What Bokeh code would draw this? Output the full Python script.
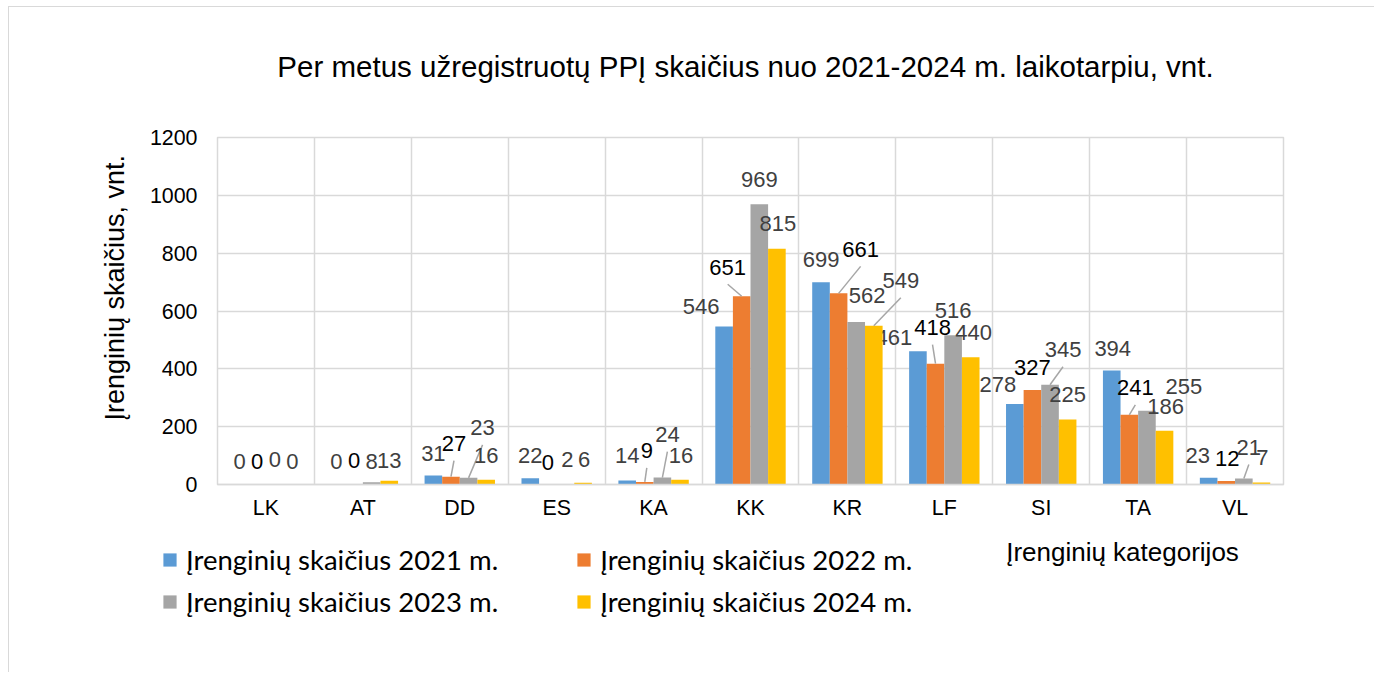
import math
from bokeh.plotting import figure
from bokeh.models import (Range1d, FixedTicker, Legend, LegendItem, Title, Label,
                          ColumnDataSource)
from bokeh.core.properties import value
from bokeh.embed import file_html
from bokeh.resources import INLINE

# ---------------- data ----------------
categories = ["LK", "AT", "DD", "ES", "KA", "KK", "KR", "LF", "SI", "TA", "VL"]
y2021 = [0, 0, 31, 22, 14, 546, 699, 461, 278, 394, 23]
y2022 = [0, 0, 27, 0, 9, 651, 661, 418, 327, 241, 12]
y2023 = [0, 8, 23, 2, 24, 969, 562, 516, 345, 255, 21]
y2024 = [0, 13, 16, 6, 16, 815, 549, 440, 225, 186, 7]
series_names = ["Įrenginių skaičius 2021 m.", "Įrenginių skaičius 2022 m.",
                "Įrenginių skaičius 2023 m.", "Įrenginių skaičius 2024 m."]
y_ticks = [0, 200, 400, 600, 800, 1000, 1200]
title_text = "Per metus užregistruotų PPĮ skaičius nuo 2021-2024 m. laikotarpiu, vnt."
y_label = "Įrenginių skaičius, vnt."
x_label = "Įrenginių kategorijos"

# ---------------- styles / label placement (pixels) ----------------
colors = ["#5B9BD5", "#ED7D31", "#A5A5A5", "#FFC000"]
label_colors = ["#404040", "#000000", "#404040", "#404040"]
dx = [
    [0, 0, 0, 0, 0, -23, 0, -24, -17, 1, -11],
    [0, 0, 3, 0, 2, -14, 22, -3, 0, 6, 1],
    [0, 0, 14, 2, 5, 0, 11, 0, 13, 37, 5],
    [0, 0, 0, 1, 1, 1, 27, 3, 0, 1, 1],
]
dy = [
    [-23, -23, -22, -23, -25, -20, -23, -14, -20, -22, -22],
    [-23, -24, -33, -22, -31, -29, -44, -36, -22, -27, -23],
    [-25, -21, -50, -24, -43, -25, -26, -25, -35, -24, -31],
    [-23, -20, -24, -23, -24, -25, -45, -25, -25, -24, -25],
]
leader = [
    [0] * 11,
    [0, 0, 1, 0, 1, 1, 1, 1, 0, 1, 0],
    [0, 0, 1, 0, 1, 0, 0, 0, 1, 0, 1],
    [0, 0, 0, 0, 0, 0, 1, 0, 0, 0, 0],
]

OX, OY = 9, 7           # page position of figure content
W = 1366
HT = 101                # title strip   (page y 6 .. 107, border included)
HA = 423                # main chart    (page y 107 .. 530)
HB = 142                # legend strip  (page y 530 .. 672)
YA = 6 + HT
YB = YA + HA
LEFT, TOP = 217 - OX, 137 - YA
RIGHT = W - (1283 - OX)
BOTTOM = HA - (484 - YA)
FW = W - LEFT - RIGHT
FH = HA - TOP - BOTTOM
N = len(categories)
PXX = FW / N
PXY = FH / 1200.0

FONT = "Liberation Sans"
GRID = "#d9d9d9"


def strip(height, extra_styles):
    f = figure(width=W, height=height, output_backend="svg", toolbar_location=None,
               x_range=Range1d(0, W), y_range=Range1d(0, height),
               x_axis_location=None, y_axis_location=None, title_location=None,
               min_border_left=0, min_border_right=0, min_border_top=0,
               min_border_bottom=0)
    f.styles = extra_styles
    f.grid.visible = False
    f.outline_line_color = None
    f.background_fill_color = "white"
    f.border_fill_color = "white"
    return f


# ---------------- title strip ----------------
t = strip(HT, {"margin-left": "8px", "margin-top": "6px",
               "border-left": "1px solid #d9d9d9", "border-top": "1px solid #d9d9d9"})
t.add_layout(Label(x=745 - OX, y=HT - 1 - (65 - OY), text=title_text,
                   text_align="center", text_baseline="middle",
                   text_font=FONT, text_font_size="29.5px", text_color="black"))

# ---------------- main chart ----------------
p = figure(width=W, height=HA, output_backend="svg", toolbar_location=None,
           title_location=None,
           x_range=Range1d(0, N), y_range=Range1d(0, 1200),
           min_border_left=LEFT, min_border_right=RIGHT,
           min_border_top=TOP, min_border_bottom=BOTTOM)
p.styles = {"margin-left": "8px", "border-left": "1px solid #d9d9d9"}
p.background_fill_color = "white"
p.border_fill_color = "white"
p.outline_line_color = GRID
p.outline_line_width = 1.5

p.ygrid.ticker = FixedTicker(ticks=y_ticks)
p.ygrid.grid_line_color = GRID
p.ygrid.grid_line_width = 1.5
p.xgrid.ticker = FixedTicker(ticks=list(range(N + 1)))
p.xgrid.grid_line_color = GRID
p.xgrid.grid_line_width = 1.5

p.yaxis.ticker = FixedTicker(ticks=y_ticks)
p.yaxis.axis_line_color = None
p.yaxis.major_tick_line_color = None
p.yaxis.minor_tick_line_color = None
p.yaxis.major_tick_out = 0
p.yaxis.major_label_standoff = 20
p.yaxis.major_label_text_font = FONT
p.yaxis.major_label_text_font_size = "21.4px"
p.yaxis.major_label_text_color = "black"

centers = [i + 0.5 for i in range(N)]
p.xaxis.ticker = FixedTicker(ticks=centers)
p.xaxis.major_label_overrides = {c: cat for c, cat in zip(centers, categories)}
p.xaxis.axis_line_color = GRID
p.xaxis.axis_line_width = 1.5
p.xaxis.major_tick_line_color = None
p.xaxis.minor_tick_line_color = None
p.xaxis.major_tick_out = 0
p.xaxis.major_label_standoff = 11
p.xaxis.major_label_text_font = FONT
p.xaxis.major_label_text_font_size = "21.4px"
p.xaxis.major_label_text_color = "black"

all_series = [y2021, y2022, y2023, y2024]
bar_w = 17.6 / PXX
offsets = [-1.5 * bar_w, -0.5 * bar_w, 0.5 * bar_w, 1.5 * bar_w]
for k, vals in enumerate(all_series):
    xs = [c + offsets[k] for c in centers]
    src = ColumnDataSource(dict(x=xs, top=vals, dx=dx[k], dy=dy[k],
                                lab=[str(v) for v in vals]))
    p.vbar(x="x", top="top", width=bar_w, bottom=0, source=src,
           fill_color=colors[k], line_color=None)
    lx0, ly0, lx1, ly1 = [], [], [], []
    for i, v in enumerate(vals):
        if leader[k][i]:
            lx0.append(xs[i] + dx[k][i] / PXX)
            ly0.append(v - (dy[k][i] + 17) / PXY)
            lx1.append(xs[i])
            ly1.append(v)
    if lx0:
        p.segment(x0=lx0, y0=ly0, x1=lx1, y1=ly1, line_color="#a6a6a6",
                  line_width=1.5)
    p.text(x="x", y="top", text="lab", x_offset="dx", y_offset="dy",
           source=src, text_align="center", text_baseline="middle",
           text_font=value(FONT), text_font_size="22px",
           text_color=label_colors[k])

p.add_layout(Title(text=y_label, align="left", offset=64, standoff=33,
                   text_font=FONT, text_font_size="27px",
                   text_font_style="normal", text_color="black"), "left")

# ---------------- legend strip ----------------
q = strip(HB, {"margin-left": "8px", "border-left": "1px solid #d9d9d9"})

# legend swatch renderers (one square each, outside the strip's view)
swatches = [q.scatter(x=[-100], y=[-100], marker="square", size=13,
                      fill_color=colors[k], line_color=None) for k in range(4)]

q.add_layout(Label(x=1122 - OX, y=HB - (551 - YB), text=x_label,
                   text_align="center", text_baseline="middle",
                   text_font=FONT, text_font_size="26px", text_color="black"))

def make_legend(idx, loc):
    lg = Legend(items=[LegendItem(label=series_names[k], renderers=[swatches[k]])
                       for k in idx],
                location=loc, orientation="horizontal",
                glyph_width=33, glyph_height=33, label_height=34,
                label_standoff=0, spacing=69, padding=0, margin=0,
                border_line_color=None, background_fill_alpha=0,
                label_text_font="Lato", label_text_font_size="27.5px",
                label_text_color="black")
    q.add_layout(lg, "center")

row1_mid = 559 - YB
row2_mid = 601 - YB
make_legend([0, 1], (153 - OX, HB - row1_mid - 17))
make_legend([2, 3], (153 - OX, HB - row2_mid - 17))

open("out.html", "w").write(file_html([t, p, q], INLINE))
